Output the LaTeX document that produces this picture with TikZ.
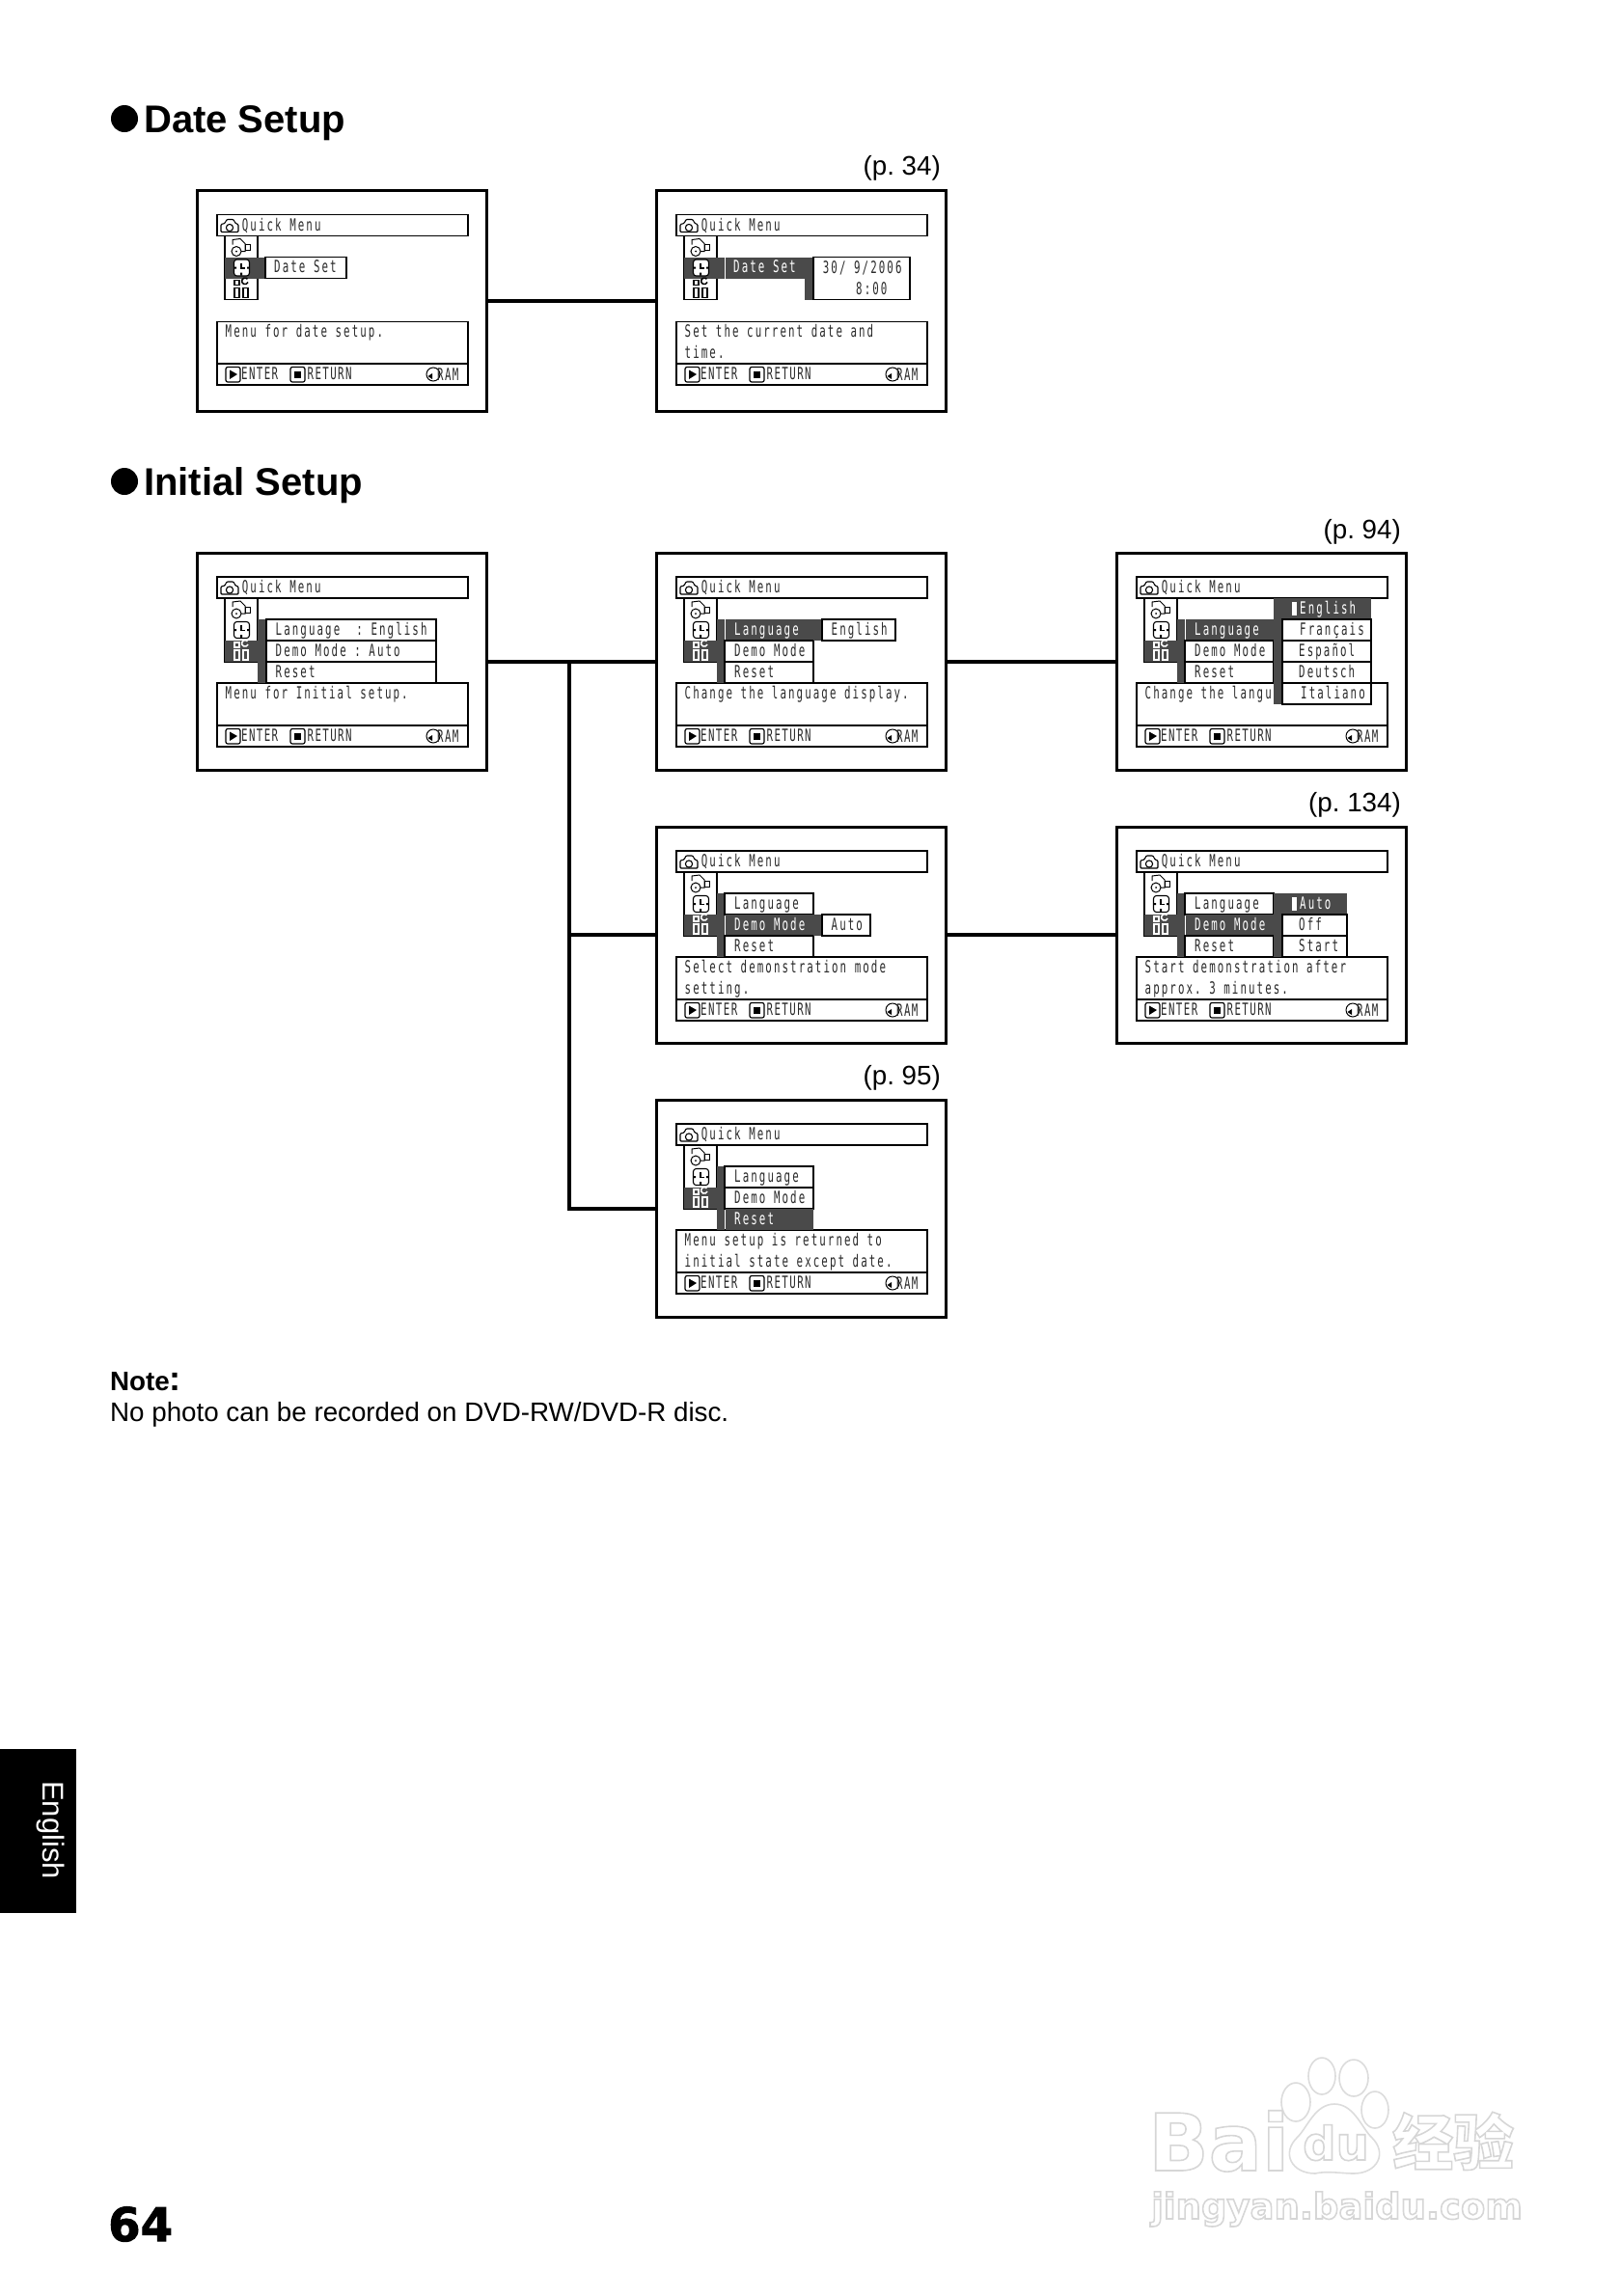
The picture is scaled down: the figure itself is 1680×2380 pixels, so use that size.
\documentclass[tikz,border=0pt]{standalone}
\usepackage{fontspec}
\setmainfont{Liberation Sans}
\newfontfamily\lcdfont[FakeStretch=0.62,LetterSpace=12]{DejaVu Sans Mono}
\newfontfamily\lcdtight[FakeStretch=0.62,LetterSpace=8]{DejaVu Sans Mono}
\newfontfamily\numfont{DejaVu Sans}
\newfontfamily\pagefont[BoldFeatures={FakeBold=2}]{DejaVu Sans}
\newfontfamily\cjkfont{Noto Sans CJK SC}
\definecolor{lcddark}{HTML}{4A4A4A}
\definecolor{lcdink}{HTML}{2A2A2A}
\definecolor{markgray}{HTML}{DCDCDC}
\frenchspacing
\tikzset{
  screenbox/.style={draw, line width=3pt, fill=white, inner sep=0pt, outer sep=0pt, anchor=north west, minimum width=300pt},
  lcdline/.style={draw=black, line width=1.4pt},
  lcdtext/.style={anchor=base west, inner sep=0pt, text=lcdink, font=\lcdfont\fontsize{17.4}{20}\selectfont},
  lcdwhite/.style={lcdtext, text=white},
  lcdfoot/.style={lcdtext, font=\lcdtight\fontsize{17.4}{20}\selectfont},
  heading/.style={anchor=base west, inner sep=0pt, font=\bfseries\fontsize{40}{44}\selectfont},
  headdot/.style={circle, fill=black, inner sep=0pt, minimum size=28pt},
  pageref/.style={anchor=base east, inner sep=0pt, font=\fontsize{27.75}{32}\selectfont},
  bodytext/.style={anchor=base west, inner sep=0pt, font=\fontsize{27.75}{32}\selectfont},
  link/.style={line width=4pt},
  markbase/.style={anchor=base west, inner sep=0pt},
  markpaw/.style={draw=markgray, line width=1.6pt, fill=white}
}
% outlined text of the watermark
\newcommand{\hollow}[1]{\special{pdf:code q 1 Tr 1.6 w 0.84 G}#1\special{pdf:code Q}}
% frame, title, message box and footer of one screen
\newcommand{\menuframe}[4]{%
  \node[screenbox, minimum height=#2 pt] (#1) at (0,0) {};
  \draw[lcdline, fill=white] (21,25) rectangle (281,47);
  \draw[line width=1.1pt, rounded corners=1pt, fill=white] (25,43) -- (25,35) -- (29,34) -- (31,30) -- (38,30) -- (40,34) -- (43,35) -- (43,43) -- cycle;
  \draw[line width=1.1pt] (34,38.5) circle (3.6);
  \node[lcdtext] (#1title) at (46.7,41.7) {Quick Menu};
  \draw[lcdline, fill=white] (21,#3) rectangle (281,#4);
  \draw[lcdline, fill=white] (21,#4) rectangle (281,#4+22);
  \draw[line width=1.2pt, rounded corners=2pt] (30,#4+3.5) rectangle (45,#4+19);
  \fill (34,#4+6.5) -- (42,#4+11) -- (34,#4+16) -- cycle;
  \node[lcdfoot] (#1enter) at (46,#4+16) {ENTER};
  \draw[line width=1.2pt, rounded corners=2pt] (97,#4+3.5) rectangle (112,#4+19);
  \fill (101,#4+7.5) rectangle (108,#4+14.5);
  \node[lcdfoot] (#1return) at (114.5,#4+16) {RETURN};
  \draw[line width=1pt] (245,#4+11) circle (7);
  \fill (239.5,#4+13) -- (244,#4+10) -- (244,#4+16) -- cycle;
  \node[lcdfoot] (#1ram) at (249,#4+17) {RAM};
}
% the three icons, drawn after the cell colours are set
\newcommand{\iconcar}{%
  \draw[line width=1pt] (37,56) -- (37,51) -- (45,50) -- (50,55) -- (50,63) -- (46,63);
  \draw[line width=1pt] (50,56) rectangle (55,62);
  \draw[line width=1pt] (41,63) circle (5);
  \fill (41,63) circle (1);
}
\newcommand{\iconclock}{%
  \draw[line width=1.1pt, rounded corners=3pt, fill=white] (38.5,71.5) rectangle (54.5,88.5);
  \draw[line width=1.3pt] (46,75) -- (46,80.5) -- (49.5,80.5);
  \fill (39,79) rectangle (41,81) (52,79) rectangle (54,81) (45,85) rectangle (47,88);
}
\newcommand{\icontool}[1]{%
  \draw[draw=#1, line width=1.1pt] (39,93) rectangle (44,98) (39,101) rectangle (44,111) (48,101) rectangle (53,111);
  \draw[draw=#1, line width=1.5pt] (53,95) arc (20:320:3.3);
}
\newcommand{\dateicons}{%
  \draw[lcdline, fill=white] (29,47) rectangle (63,113);
  \fill[lcddark] (29,69) rectangle (63,91);
  \iconcar \iconclock \icontool{black}
}
\newcommand{\setupicons}{%
  \draw[lcdline, fill=white] (29,47) rectangle (63,113);
  \fill[lcddark] (29,91) rectangle (63,113);
  \iconcar \iconclock \icontool{white}
}
% one white or dark cell: name, left, right, top, text x, text
\newcommand{\cellplain}[6]{%
  \draw[lcdline, fill=white] (#2,#4) rectangle (#3,#4+22);
  \node[lcdtext] (#1) at (#5,#4+16) {#6};
}
\newcommand{\celldark}[6]{%
  \fill[lcddark] (#2,#4) rectangle (#3,#4+22);
  \node[lcdwhite] (#1) at (#5,#4+16) {#6};
}
\newcommand{\lcdmsg}[3]{\node[lcdtext] (#1) at (29.5,#2) {#3};}
\newcommand{\pick}[1]{\fill[white] (182,#1+4) rectangle (186.5,#1+18);}

\begin{document}
\begin{tikzpicture}[x=1pt, y=-1pt]
  \useasboundingbox (0,0) rectangle (1680,2380);
  % Headings
  \node[headdot] (dateDot) at (129,123) {};
  \node[heading] (dateHead) at (149,137.5) {Date Setup};
  \node[headdot] (initDot) at (129,499) {};
  \node[heading] (initHead) at (149,513) {Initial Setup};
  % Page references
  \node[pageref] (refDate) at (975,181) {(p. 34)};
  \node[pageref] (refLang) at (1452,558) {(p. 94)};
  \node[pageref] (refDemo) at (1452,841) {(p. 134)};
  \node[pageref] (refReset) at (975,1124) {(p. 95)};
  % Date setup, first screen
  \begin{scope}[shift={(204,197.5)}]
    \menuframe{dateA}{228.5}{136}{179.5}
    \dateicons
    \fill[lcddark] (63,69) rectangle (71.3,91);
    \cellplain{dateAset}{71}{155}{69}{80}{Date Set}
    \lcdmsg{dateAmsg}{152}{Menu for date setup.}
  \end{scope}
  % Date setup, second screen
  \begin{scope}[shift={(680,197.5)}]
    \menuframe{dateB}{228.5}{136}{179.5}
    \dateicons
    \fill[lcddark] (63,69) rectangle (71.3,91);
    \celldark{dateBset}{72}{154}{69}{80}{Date Set}
    \fill[lcddark] (154,69) rectangle (163,113);
    \draw[lcdline, fill=white] (163,69) rectangle (263,113);
    \node[lcdtext] (dateBday) at (172.7,85.5) {30/~9/2006};
    \node[lcdtext] (dateBtime) at (172.7,107.5) {~~~~8:00};
    \lcdmsg{dateBmsgA}{152}{Set the current date and}
    \lcdmsg{dateBmsgB}{174}{time.}
  \end{scope}
  % Initial setup, first screen
  \begin{scope}[shift={(204,573)}]
    \menuframe{initA}{225}{135}{179}
    \setupicons
    \fill[lcddark] (63,69) rectangle (72,135);
    \cellplain{initAlang}{72}{248}{69}{81.5}{Language~~: English}
    \cellplain{initAdemo}{72}{248}{91}{81.5}{Demo Mode : Auto}
    \cellplain{initAreset}{72}{248}{113}{81.5}{Reset}
    \lcdmsg{initAmsg}{151}{Menu for Initial setup.}
  \end{scope}
  % Language, second screen
  \begin{scope}[shift={(680,573)}]
    \menuframe{initB}{225}{135}{179}
    \setupicons
    \fill[lcddark] (63,69) rectangle (71.3,135);
    \celldark{initBlang}{72}{163}{69}{81}{Language}
    \cellplain{initBdemo}{71}{163}{91}{81}{Demo Mode}
    \cellplain{initBreset}{71}{163}{113}{81}{Reset}
    \fill[lcddark] (163,69) rectangle (172,91);
    \cellplain{initBeng}{172}{248}{69}{181.5}{English}
    \lcdmsg{initBmsg}{151}{Change the language display.}
  \end{scope}
  % Language, third screen
  \begin{scope}[shift={(1157,573)}]
    \menuframe{initC}{225}{135}{179}
    \setupicons
    \fill[lcddark] (63,69) rectangle (71.3,135);
    \celldark{initClang}{72}{163}{69}{81}{Language}
    \cellplain{initCdemo}{71}{163}{91}{81}{Demo Mode}
    \cellplain{initCreset}{71}{163}{113}{81}{Reset}
    \lcdmsg{initCmsg}{151}{Change the langu}
    \fill[lcddark] (163,47) rectangle (172,157);
    \celldark{initCeng}{172}{264}{47}{190}{English}
    \pick{47}
    \cellplain{initCfre}{172}{264}{69}{190}{Français}
    \cellplain{initCesp}{172}{264}{91}{189}{Español}
    \cellplain{initCdeu}{172}{264}{113}{189}{Deutsch}
    \cellplain{initCita}{172}{264}{135}{191}{Italiano}
  \end{scope}
  % Demo mode, second screen
  \begin{scope}[shift={(680,857)}]
    \menuframe{demoB}{224}{135}{179}
    \setupicons
    \fill[lcddark] (63,69) rectangle (71.3,135);
    \cellplain{demoBlang}{71}{163}{69}{81}{Language}
    \celldark{demoBmode}{72}{163}{91}{81}{Demo Mode}
    \cellplain{demoBreset}{71}{163}{113}{81}{Reset}
    \fill[lcddark] (163,91) rectangle (172,113);
    \cellplain{demoBauto}{172}{222}{91}{181.5}{Auto}
    \lcdmsg{demoBmsgA}{151}{Select demonstration mode}
    \lcdmsg{demoBmsgB}{173}{setting.}
  \end{scope}
  % Demo mode, third screen
  \begin{scope}[shift={(1157,857)}]
    \menuframe{demoC}{224}{135}{179}
    \setupicons
    \fill[lcddark] (63,69) rectangle (71.3,135);
    \cellplain{demoClang}{71}{163}{69}{81}{Language}
    \celldark{demoCmode}{72}{163}{91}{81}{Demo Mode}
    \cellplain{demoCreset}{71}{163}{113}{81}{Reset}
    \fill[lcddark] (163,69) rectangle (172,135);
    \celldark{demoCauto}{172}{239}{69}{190}{Auto}
    \pick{69}
    \cellplain{demoCoff}{172}{239}{91}{189}{Off}
    \cellplain{demoCstart}{172}{239}{113}{189}{Start}
    \lcdmsg{demoCmsgA}{151}{Start demonstration after}
    \lcdmsg{demoCmsgB}{173}{approx. 3 minutes.}
  \end{scope}
  % Reset screen
  \begin{scope}[shift={(680,1140)}]
    \menuframe{resetB}{225}{135}{179}
    \setupicons
    \fill[lcddark] (63,69) rectangle (71.3,135);
    \cellplain{resetBlang}{71}{163}{69}{81}{Language}
    \cellplain{resetBdemo}{71}{163}{91}{81}{Demo Mode}
    \celldark{resetBreset}{72}{163}{113}{81}{Reset}
    \lcdmsg{resetBmsgA}{151}{Menu setup is returned to}
    \lcdmsg{resetBmsgB}{173}{initial state except date.}
  \end{scope}
  % Connectors
  \draw[link] (dateA.east) -- (dateB.west);
  \draw[link] (initA.east) -- (initB.west);
  \draw[link] (initB.east) -- (initC.west);
  \draw[link] (demoB.east) -- (demoC.west);
  \coordinate (trunk) at (590,685);
  \draw[link] (trunk) |- (demoB.west);
  \draw[link] (trunk) |- (resetB.west);
  % Note
  \node[bodytext, font=\bfseries\fontsize{27.75}{32}\selectfont] (noteHead) at (114,1441) {Note\fontsize{36}{36}\selectfont:};
  \node[bodytext] (noteBody) at (114,1473) {No photo can be recorded on DVD-RW/DVD-R disc.};
  % Language tab and page number
  \fill (0,1813) rectangle (79,1983);
  \node[anchor=base west, inner sep=0pt, rotate=-90, text=white, font=\fontsize{31}{34}\selectfont] (tabText) at (44,1846) {English};
  \node[anchor=base west, inner sep=0pt, font=\pagefont\bfseries\fontsize{48}{50}\selectfont] (pageNo) at (112,2323) {64};
  % Watermark
  \foreach \px/\py/\rx/\ry in {1343/2179/15/20, 1370/2152/14/19, 1403/2154/15/19, 1425/2187/14/19}
    \draw[markpaw] (\px,\py) ellipse (\rx pt and \ry pt);
  \draw[markpaw] (1383,2181) .. controls (1403,2181) and (1411,2205) .. (1421,2215) .. controls (1439,2232) and (1427,2253) .. (1403,2253) .. controls (1391,2253) and (1375,2250) .. (1363,2253) .. controls (1339,2253) and (1327,2232) .. (1345,2215) .. controls (1355,2205) and (1363,2181) .. (1383,2181);
  \node[markbase, font=\numfont\bfseries\fontsize{82}{84}\selectfont] (markBai) at (1190,2250) {\hollow{Bai}};
  \node[markbase, font=\numfont\bfseries\fontsize{48}{50}\selectfont] (markDu) at (1350,2239) {\hollow{du}};
  \node[markbase, font=\cjkfont\bfseries\fontsize{63}{66}\selectfont] (markCjk) at (1443,2244) {\hollow{经验}};
  \node[markbase, font=\numfont\bfseries\fontsize{37}{40}\selectfont] (markUrl) at (1193,2300) {\hollow{jingyan.baidu.com}};
\end{tikzpicture}
\end{document}
